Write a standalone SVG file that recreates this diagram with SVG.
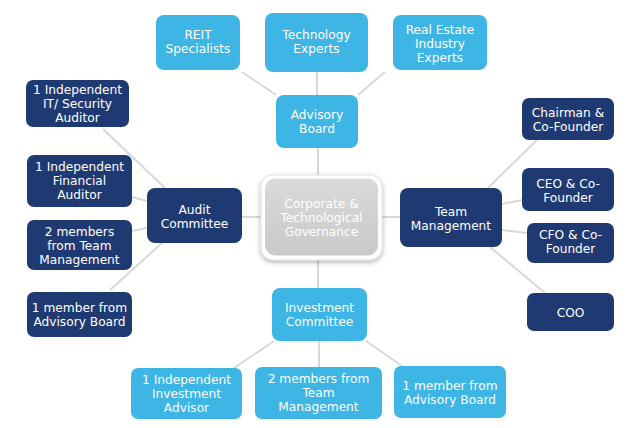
<svg xmlns="http://www.w3.org/2000/svg" width="640" height="428" viewBox="0 0 640 428">
<defs>
<style>
.lb{fill:#3db5e5}
.nv{fill:#1f3a72}
text{font-family:"DejaVu Sans","Liberation Sans",sans-serif;font-size:12.2px;fill:#ffffff;text-anchor:middle}
.c line{stroke:#d8d8d8;stroke-width:2}
</style>
<linearGradient id="g" x1="0" y1="0" x2="0" y2="1">
<stop offset="0" stop-color="#dadada"/>
<stop offset="1" stop-color="#c9c9c9"/>
</linearGradient>
<filter id="sh" x="-20%" y="-20%" width="140%" height="140%">
<feDropShadow dx="0" dy="2" stdDeviation="2.5" flood-color="#000" flood-opacity="0.3"/>
</filter>
</defs>
<rect width="640" height="428" fill="#ffffff"/>
<g class="c">
<line x1="242" y1="72" x2="276" y2="95"/>
<line x1="317" y1="72" x2="317" y2="95"/>
<line x1="385" y1="72" x2="358" y2="95"/>
<line x1="318" y1="148" x2="318" y2="176"/>
<line x1="318" y1="260" x2="318" y2="288"/>
<line x1="242" y1="217" x2="261" y2="217"/>
<line x1="382" y1="217" x2="400" y2="217"/>
<line x1="103" y1="129" x2="165" y2="188"/>
<line x1="132" y1="197" x2="147" y2="201"/>
<line x1="132" y1="231" x2="147" y2="228"/>
<line x1="110" y1="290" x2="162" y2="243"/>
<line x1="488" y1="188" x2="537" y2="140"/>
<line x1="502" y1="204" x2="522" y2="200"/>
<line x1="502" y1="230" x2="527" y2="233"/>
<line x1="490" y1="247" x2="545" y2="293"/>
<line x1="274" y1="341" x2="234" y2="368"/>
<line x1="319" y1="341" x2="319" y2="367"/>
<line x1="366" y1="341" x2="402" y2="366"/>
</g>
<g id="reit"><rect class="lb" x="156" y="15" width="84" height="55" rx="8"/><text x="198" y="39">REIT</text><text x="198" y="53">Specialists</text></g>
<g id="tech"><rect class="lb" x="265" y="13" width="103" height="59" rx="8"/><text x="316.5" y="39">Technology</text><text x="316.5" y="53">Experts</text></g>
<g id="realestate"><rect class="lb" x="393" y="15" width="94" height="55" rx="8"/><text x="440" y="33.5">Real Estate</text><text x="440" y="47.5">Industry</text><text x="440" y="61.5">Experts</text></g>
<g id="advisory"><rect class="lb" x="276" y="95" width="82" height="53" rx="8"/><text x="317" y="119">Advisory</text><text x="317" y="133">Board</text></g>
<g id="center"><rect x="261" y="175" width="121" height="85" rx="12" fill="#ffffff" stroke="#e2e2e2" filter="url(#sh)"/><rect x="265" y="178.5" width="113" height="77" rx="10" fill="url(#g)"/><text x="321.5" y="207.5">Corporate &amp;</text><text x="321.5" y="221.5">Technological</text><text x="321.5" y="235.5">Governance</text></g>
<g id="itaud"><rect class="nv" x="26" y="80" width="103" height="47" rx="7"/><text x="77.5" y="94">1 Independent</text><text x="77.5" y="108">IT/ Security</text><text x="77.5" y="122">Auditor</text></g>
<g id="finaud"><rect class="nv" x="27" y="155" width="105" height="52" rx="7"/><text x="79.5" y="171">1 Independent</text><text x="79.5" y="185">Financial</text><text x="79.5" y="199">Auditor</text></g>
<g id="audit"><rect class="nv" x="147" y="188" width="95" height="55" rx="8"/><text x="194.5" y="214">Audit</text><text x="194.5" y="228">Committee</text></g>
<g id="auditteam"><rect class="nv" x="27" y="220" width="105" height="50" rx="7"/><text x="79.5" y="235.5">2 members</text><text x="79.5" y="249.5">from Team</text><text x="79.5" y="263.5">Management</text></g>
<g id="auditadv"><rect class="nv" x="27" y="292" width="105" height="45" rx="7"/><text x="79.5" y="312">1 member from</text><text x="79.5" y="326">Advisory Board</text></g>
<g id="team"><rect class="nv" x="400" y="188" width="102" height="59" rx="8"/><text x="451" y="216">Team</text><text x="451" y="230">Management</text></g>
<g id="chair"><rect class="nv" x="522" y="98" width="92" height="42" rx="7"/><text x="568" y="116.5">Chairman &amp;</text><text x="568" y="130.5">Co-Founder</text></g>
<g id="ceo"><rect class="nv" x="522" y="168" width="92" height="43" rx="7"/><text x="568" y="187.5">CEO &amp; Co-</text><text x="568" y="201.5">Founder</text></g>
<g id="cfo"><rect class="nv" x="527" y="223" width="87" height="40" rx="7"/><text x="570.5" y="239">CFO &amp; Co-</text><text x="570.5" y="253">Founder</text></g>
<g id="coo"><rect class="nv" x="527" y="293" width="87" height="38" rx="7"/><text x="570.5" y="316.5">COO</text></g>
<g id="invest"><rect class="lb" x="272" y="288" width="95" height="53" rx="8"/><text x="319.5" y="312">Investment</text><text x="319.5" y="326">Committee</text></g>
<g id="invadv"><rect class="lb" x="131" y="368" width="111" height="51" rx="7"/><text x="186.5" y="384">1 Independent</text><text x="186.5" y="398">Investment</text><text x="186.5" y="412">Advisor</text></g>
<g id="invteam"><rect class="lb" x="255" y="367" width="127" height="52" rx="7"/><text x="318.5" y="383">2 members from</text><text x="318.5" y="397">Team</text><text x="318.5" y="411">Management</text></g>
<g id="invboard"><rect class="lb" x="394" y="366" width="112" height="52" rx="7"/><text x="450" y="390">1 member from</text><text x="450" y="404">Advisory Board</text></g>
</svg>
